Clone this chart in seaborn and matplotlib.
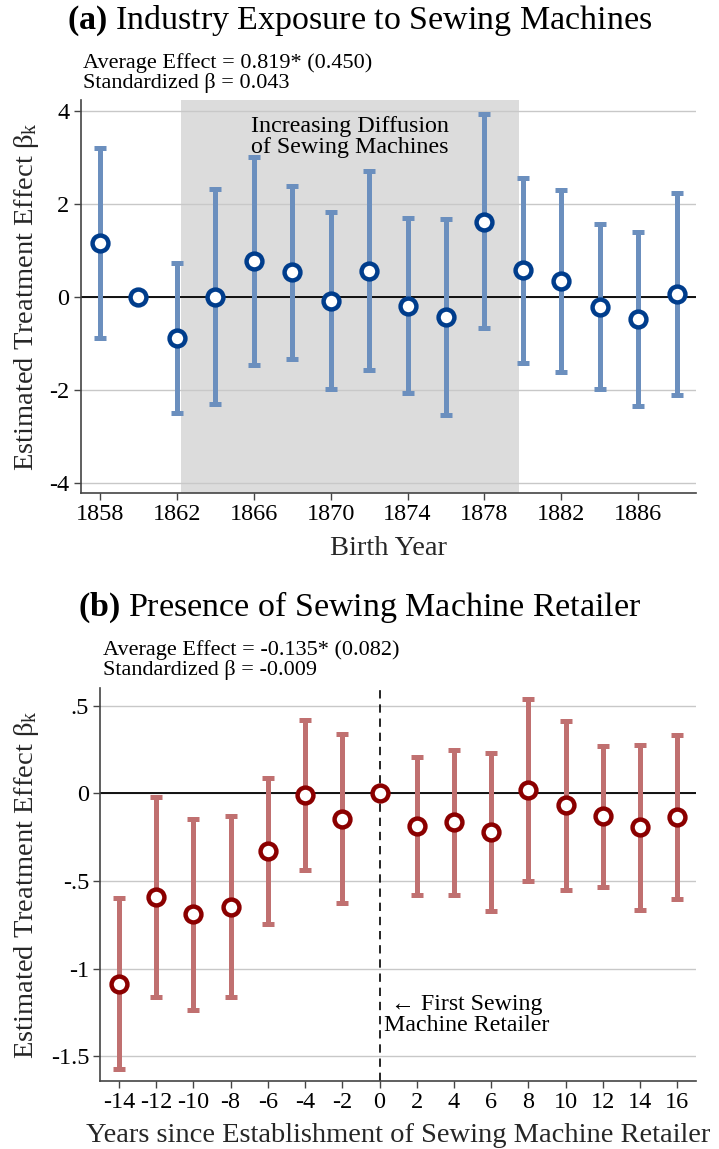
import numpy as np
import pandas as pd
import seaborn as sns
import matplotlib.pyplot as plt

# panel (a): industry exposure, by birth year
years = [1858, 1860, 1862, 1864, 1866, 1868, 1870, 1872, 1874,
         1876, 1878, 1880, 1882, 1884, 1886, 1888]
coef_a = [1.16, 0.0, -0.89, 0.0, 0.78, 0.53, -0.08, 0.57, -0.19,
          -0.43, 1.62, 0.58, 0.35, -0.22, -0.47, 0.07]
lo_a = [-0.89, np.nan, -2.50, -2.30, -1.46, -1.33, -1.98, -1.57, -2.06,
        -2.54, -0.67, -1.41, -1.61, -1.99, -2.34, -2.11]
hi_a = [3.21, np.nan, 0.74, 2.32, 3.02, 2.39, 1.83, 2.72, 1.70,
        1.68, 3.93, 2.57, 2.31, 1.57, 1.41, 2.25]

# panel (b): years since first retailer
rel_years = [-14, -12, -10, -8, -6, -4, -2, 0, 2, 4, 6, 8, 10, 12, 14, 16]
coef_b = [-1.087, -0.59, -0.69, -0.646, -0.327, -0.01, -0.143, 0.0,
          -0.185, -0.164, -0.221, 0.021, -0.068, -0.129, -0.194, -0.133]
lo_b = [-1.574, -1.16, -1.234, -1.163, -0.743, -0.439, -0.624, np.nan,
        -0.578, -0.578, -0.671, -0.498, -0.551, -0.532, -0.665, -0.603]
hi_b = [-0.599, -0.02, -0.147, -0.13, 0.091, 0.422, 0.338, np.nan,
        0.209, 0.251, 0.23, 0.539, 0.416, 0.271, 0.275, 0.336]

yticks_a = [4, 2, 0, -2, -4]
yticklabels_a = ['4', '2', '0', '-2', '-4']
xticks_a = [1858, 1862, 1866, 1870, 1874, 1878, 1882, 1886]
yticks_b = [0.5, 0, -0.5, -1, -1.5]
yticklabels_b = ['.5', '0', '-.5', '-1', '-1.5']
xticklabels_b = [str(v) for v in rel_years]

df_a = pd.DataFrame({'x': years, 'b': coef_a, 'lo': lo_a, 'hi': hi_a})
df_b = pd.DataFrame({'x': rel_years, 'b': coef_b, 'lo': lo_b, 'hi': hi_b})

sns.set_theme(style='white')
plt.rcParams['font.family'] = ['Liberation Serif', 'DejaVu Serif']
plt.rcParams['mathtext.fontset'] = 'custom'
plt.rcParams['mathtext.rm'] = 'Liberation Serif'
plt.rcParams['mathtext.it'] = 'Liberation Serif:italic'
plt.rcParams['mathtext.bf'] = 'Liberation Serif:bold'
plt.rcParams['text.color'] = 'black'

fig = plt.figure(figsize=(7.19, 11.49), dpi=100)
ax1 = fig.add_axes([0.1122, 0.5709, 0.8558, 0.3420])
ax2 = fig.add_axes([0.1395, 0.0594, 0.8285, 0.3415])

ylab = r'Estimated Treatment Effect $\mathrm{\beta}_{\mathrm{k}}$'
LAB = 20.5
TICK = 17.5


def draw(ax, df, bar_col, dot_col):
    ax.axhline(0, color='black', lw=1.3, zorder=2)
    ok = df.dropna()
    ax.errorbar(ok['x'], ok['b'], yerr=[ok['b'] - ok['lo'], ok['hi'] - ok['b']],
                fmt='none', ecolor=bar_col, elinewidth=3.6, capsize=4.5,
                capthick=3.6, zorder=3)
    sns.scatterplot(data=df, x='x', y='b', ax=ax, s=130, color='white',
                    edgecolor=dot_col, linewidth=3.2, zorder=4, legend=False)
    ax.yaxis.grid(True, color='#c8c8c8', lw=1.0)
    ax.set_axisbelow(True)
    for side in ['top', 'right']:
        ax.spines[side].set_visible(False)
    for side in ['left', 'bottom']:
        ax.spines[side].set_color('#444444')
        ax.spines[side].set_linewidth(1.2)
    ax.tick_params(axis='both', which='both', direction='out', length=5,
                   width=1.0, color='#444444', labelsize=TICK, pad=3,
                   left=True, bottom=True, labelcolor='black')


# ---- panel (a)
ax1.axvspan(1862.2, 1879.8, color='#dcdcdc', zorder=0, lw=0)
draw(ax1, df_a, '#6b8fbe', '#003d8c')
ax1.set_xlim(1857, 1889)
ax1.set_ylim(-4.22, 4.24)
ax1.set_xticks(xticks_a)
ax1.set_xticklabels([str(v) for v in xticks_a])
ax1.set_yticks(yticks_a)
ax1.set_yticklabels(yticklabels_a)
ax1.set_xlabel('Birth Year', fontsize=LAB)
ax1.set_ylabel(ylab, fontsize=LAB)
ax1.xaxis.set_label_coords(0.5, -0.11)
ax1.yaxis.set_label_coords(-0.0645, 0.5)
ax1.text(1871, 3.44, 'Increasing Diffusion\nof Sewing Machines',
         ha='center', va='center', fontsize=17.3, linespacing=1.0)

fig.text(0.5, 1 - 21 / 1149, r'$\mathbf{(a)}$ Industry Exposure to Sewing Machines',
         ha='center', va='center', fontsize=24.5)
fig.text(83 / 719, 1 - 73 / 1149, 'Average Effect = 0.819* (0.450)\nStandardized \u03b2 = 0.043',
         ha='left', va='center', fontsize=16, linespacing=1.0)

# ---- panel (b)
draw(ax2, df_b, '#c07070', '#8b0000')
ax2.axvline(0, color='black', lw=1.2, ls=(0, (5, 3.5)), zorder=2)
ax2.set_xlim(-15, 17)
ax2.set_ylim(-1.64, 0.6)
ax2.set_xticks(rel_years)
ax2.set_xticklabels(xticklabels_b)
ax2.set_yticks(yticks_b)
ax2.set_yticklabels(yticklabels_b)
ax2.set_xlabel('Years since Establishment of Sewing Machine Retailer', fontsize=LAB)
ax2.set_ylabel(ylab, fontsize=LAB)
ax2.xaxis.set_label_coords(0.5006, -0.107)
ax2.yaxis.set_label_coords(-0.0995, 0.5)
ax2.text(4.7, -1.264, '\u2190 First Sewing\nMachine Retailer',
         ha='center', va='center', fontsize=17.2, linespacing=1.0)

fig.text(0.5, 1 - 607 / 1149, r'$\mathbf{(b)}$ Presence of Sewing Machine Retailer',
         ha='center', va='center', fontsize=24.5)
fig.text(103 / 719, 1 - 660 / 1149, 'Average Effect = -0.135* (0.082)\nStandardized \u03b2 = -0.009',
         ha='left', va='center', fontsize=16, linespacing=1.0)

fig.savefig('out.png', dpi=100)
